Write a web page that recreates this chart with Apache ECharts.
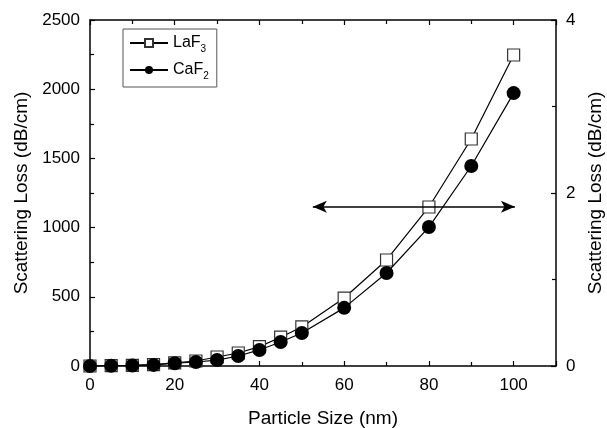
<!DOCTYPE html>
<html><head><meta charset="utf-8">
<script src="https://cdn.jsdelivr.net/npm/echarts@6/dist/echarts.min.js"></script>
<style>html,body{margin:0;padding:0;background:#fff}#c{width:607px;height:428px}</style>
</head><body><div id="c"></div>
<script>
var sizes = [0, 5, 10, 15, 20, 25, 30, 35, 40, 45, 50, 60, 70, 80, 90, 100];
var laf3 = [0, 2, 5, 10, 22, 36, 65, 94, 140, 208, 282, 491, 766, 1149, 1640, 2247];
var caf2 = [0, 2, 4, 8, 20, 29, 43, 72, 116, 173, 238, 420, 672, 1004, 1445, 1972];
var xTicks = [0, 20, 40, 60, 80, 100];
var arrowFrom = [52.6, 1150];
var arrowTo = [100.3, 1150];

function pairs(xs, ys){ return xs.map(function(x,i){ return [x, ys[i]]; }); }
var font = 'Liberation Sans, Arial, sans-serif';
var chart = echarts.init(document.getElementById('c'));
function base(extra){
  var o = {
    axisLine:{show:true, onZero:false, lineStyle:{color:'#000', width:1.5}},
    axisTick:{show:true, inside:true, length:5, lineStyle:{color:'#000', width:1.2}},
    minorTick:{show:true, splitNumber:2, length:4, lineStyle:{color:'#000', width:1.2}},
    splitLine:{show:false},
    axisLabel:{color:'#000', fontSize:17, fontFamily:font, margin:10, formatter:function(v){ return String(v); }}
  };
  for (var k in extra) o[k] = extra[k];
  return o;
}
chart.setOption({
  animation:false,
  backgroundColor:'#fff',
  grid:{left:90, right:51, top:20, bottom:62, containLabel:false, outerBoundsMode:'none'},
  legend:{
    left:123, top:29, orient:'vertical', show:true,
    data:['LaF3','CaF2'],
    borderColor:'#555', borderWidth:1, padding:[6,8,6,6], itemGap:8,
    itemWidth:38, itemHeight:10,
    textStyle:{color:'#000', fontSize:16, fontFamily:font,
      rich:{sub:{fontSize:10, verticalAlign:'bottom', padding:[12,0,0,0], fontFamily:font, color:'#000'}}},
    formatter:function(n){ return n.replace(/(\d)$/, '{sub|$1}'); }
  },
  xAxis:[
    base({type:'value', min:0, max:110, interval:20, position:'bottom',
      name:'Particle Size (nm)', nameLocation:'middle', nameGap:43,
      nameTextStyle:{color:'#000', fontSize:19, fontFamily:font},
      axisLabel:{color:'#000', fontSize:17, fontFamily:font, margin:11,
        formatter:function(v){ return xTicks.indexOf(v) >= 0 ? String(v) : ''; }}}),
    base({type:'value', min:0, max:110, interval:20, position:'top',
      axisLabel:{show:false}})
  ],
  yAxis:[
    base({type:'value', min:0, max:2500, interval:500, position:'left',
      name:'Scattering Loss (dB/cm)', nameLocation:'middle', nameGap:56, nameRotate:90,
      nameTextStyle:{color:'#000', fontSize:19, fontFamily:font}}),
    base({type:'value', min:0, max:4, interval:2, position:'right',
      name:'Scattering Loss (dB/cm)', nameLocation:'middle', nameGap:29, nameRotate:90,
      nameTextStyle:{color:'#000', fontSize:19, fontFamily:font}})
  ],
  series:[
    {name:'arrow', type:'line', data:[], z:1, xAxisIndex:0, yAxisIndex:0,
     markLine:{silent:true, symbol:['arrow','arrow'], symbolSize:[9,14], label:{show:false},
       lineStyle:{color:'#000', width:1.5, type:'solid'},
       data:[[{coord:arrowFrom},{coord:arrowTo}]]}},
    {name:'LaF3', type:'line', data:pairs(sizes, laf3), z:3, symbol:'rect', symbolSize:12,
     lineStyle:{color:'#000', width:1.2}, itemStyle:{color:'#fff', borderColor:'#333', borderWidth:1.2}},
    {name:'CaF2', type:'line', data:pairs(sizes, caf2), z:4, symbol:'circle', symbolSize:14,
     lineStyle:{color:'#000', width:1.2}, itemStyle:{color:'#000', borderColor:'#000', borderWidth:0}}
  ]
});
</script></body></html>
